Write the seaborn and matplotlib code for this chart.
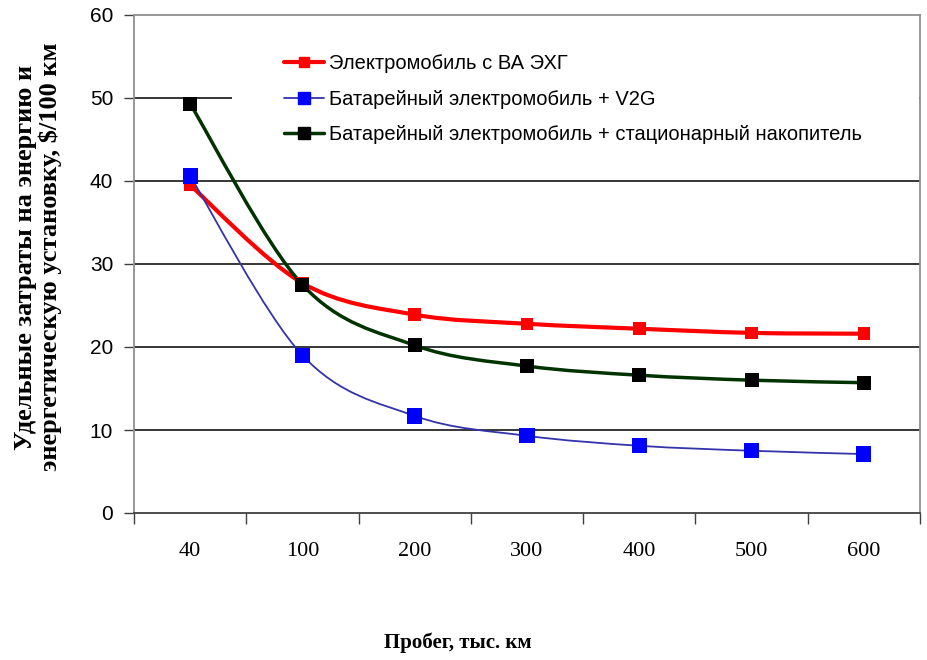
import numpy as np
import pandas as pd
import matplotlib
matplotlib.use("Agg")
import matplotlib.pyplot as plt
from matplotlib.path import Path
from matplotlib.patches import PathPatch, Rectangle
from matplotlib.lines import Line2D
import seaborn as sns

categories = ["40", "100", "200", "300", "400", "500", "600"]
red_vals = [39.5, 27.7, 23.9, 22.8, 22.2, 21.7, 21.6]
blue_vals = [40.6, 19.0, 11.7, 9.3, 8.1, 7.5, 7.1]
black_vals = [49.3, 27.5, 20.2, 17.7, 16.6, 16.0, 15.7]
series_names = ["Электромобиль с ВА ЭХГ",
                "Батарейный электромобиль + V2G",
                "Батарейный электромобиль + стационарный накопитель"]

sns.set_style("white")
plt.rcParams['font.family'] = ['Liberation Sans', 'DejaVu Sans']
plt.rcParams['text.color'] = 'black'

fig = plt.figure(figsize=(9.28, 6.60), dpi=100)
ax = fig.add_axes([134/928, 1-513/660, (920-134)/928, (513-15)/660])

df = pd.DataFrame({"cat": categories * 3,
                   "val": red_vals + blue_vals + black_vals,
                   "series": [series_names[0]]*7 + [series_names[1]]*7 + [series_names[2]]*7})

styles = [
    dict(line="#FF0000", lw=3.0, mk="#FF0000", ms=9),
    dict(line="#3333AA", lw=1.3, mk="#0000FF", ms=11),
    dict(line="#003300", lw=2.5, mk="#000000", ms=10),
]


def smooth_path(xs, ys):
    pts = np.column_stack([xs, ys]).astype(float)
    n = len(pts)
    verts = [pts[0]]
    codes = [Path.MOVETO]
    for i in range(n-1):
        p0 = pts[i-1] if i > 0 else pts[i]
        p1 = pts[i]
        p2 = pts[i+1]
        p3 = pts[i+2] if i+2 < n else pts[i+1]
        c1 = p1 + (p2 - p0) / 6.0
        c2 = p2 - (p3 - p1) / 6.0
        verts += [c1, c2, p2]
        codes += [Path.CURVE4]*3
    return Path(verts, codes)


for name, st in zip(series_names, styles):
    sub = df[df.series == name]
    sns.scatterplot(data=sub, x="cat", y="val", marker="s", s=st["ms"]**2,
                    color=st["mk"], edgecolor="none", ax=ax, zorder=5, legend=False)
    xs = np.arange(len(sub))
    patch = PathPatch(smooth_path(xs, sub["val"].values), facecolor="none",
                      edgecolor=st["line"], lw=st["lw"], zorder=4)
    ax.add_patch(patch)

ax.set_xlim(-0.5, len(categories)-0.5)
ax.set_ylim(0, 60)
ax.set_yticks(np.arange(0, 61, 10))
ax.set_xticks(np.arange(len(categories)))
ax.set_xticklabels(categories, family="Liberation Serif", fontsize=16)
ax.set_xticks(np.arange(-0.5, len(categories), 1), minor=True)
ax.tick_params(axis="x", which="major", length=0, pad=21, labelcolor="black")
ax.tick_params(axis="x", which="minor", length=8, width=1, color="#404040", direction="out", bottom=True)
ax.tick_params(axis="y", length=7, width=1, color="#404040", direction="out", left=True,
               labelsize=15, pad=8, labelcolor="black")
ax.set_xlabel("")
ax.set_ylabel("")

for y in range(10, 51, 10):
    ax.axhline(y, color="black", lw=1.1, zorder=1)

for s in ["left", "top", "right"]:
    ax.spines[s].set_color("#909090")
    ax.spines[s].set_linewidth(1.3)
ax.spines["bottom"].set_color("#404040")
ax.spines["bottom"].set_linewidth(1.3)

# white legend area covering gridlines
ax.add_patch(Rectangle((232/928, 1-165/660), (919.5-232)/928, (165-17)/660,
                       transform=fig.transFigure, facecolor="white", edgecolor="none", zorder=2))

handles = [Line2D([0], [0], color=st["line"], lw=st["lw"], marker="s",
                  markerfacecolor=st["mk"], markeredgecolor=st["mk"], markersize=st["ms"]*0.8)
           for st in styles]
leg = fig.legend(handles, series_names, loc="upper left", bbox_to_anchor=(266/928, 1-36/660),
                 frameon=False, fontsize=14.5, handlelength=2.0, handletextpad=0.25,
                 labelspacing=0.82, numpoints=1)
for t in leg.get_texts():
    t.set_color("black")

fig.text(458/928, 1-643/660, "Пробег, тыс. км", ha="center", va="center",
         family="Liberation Serif", fontweight="bold", fontsize=15, color="black")
fig.text(38/928, 1-257/660, "Удельные затраты на энергию и\nэнергетическую установку, $/100 км",
         ha="center", va="center", rotation=90, family="Liberation Serif",
         fontweight="bold", fontsize=19, linespacing=1.08, multialignment="center", color="black")

fig.savefig("out.png", dpi=100)
